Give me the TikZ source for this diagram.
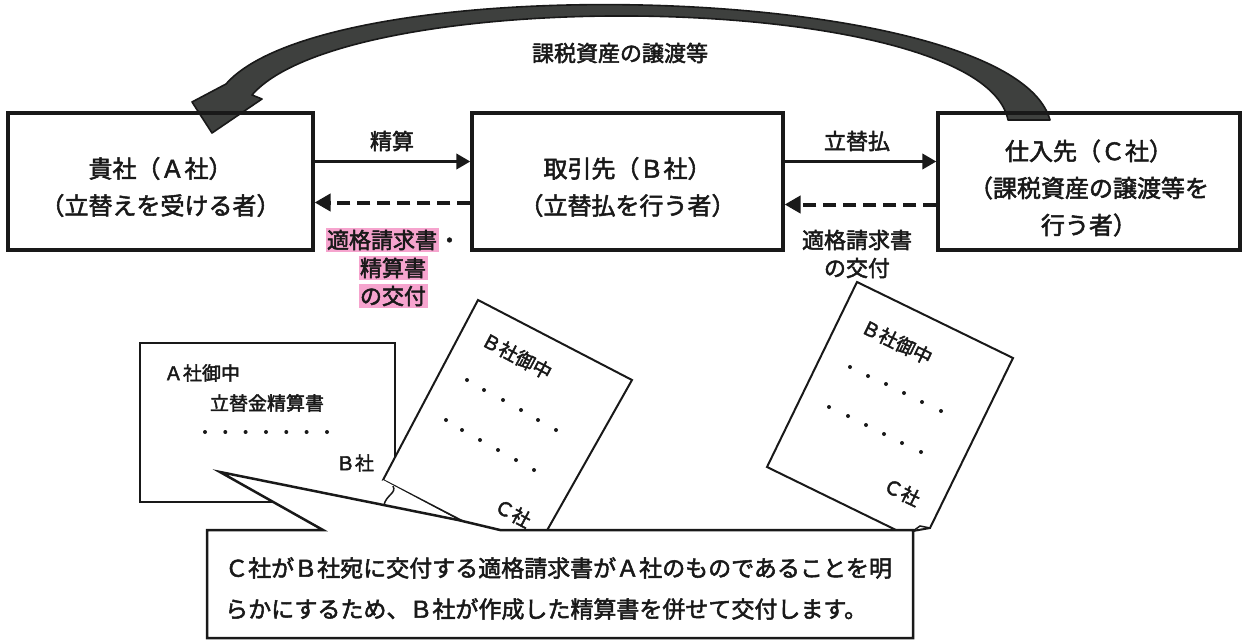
\documentclass[tikz,border=0pt]{standalone}
\usepackage{fontspec}
\setmainfont{Noto Sans CJK JP}
\newfontfamily\jpmed{Noto Sans CJK JP}[FakeBold=2.2]
\usetikzlibrary{arrows.meta}
\definecolor{pinkhl}{RGB}{246,164,206}
\definecolor{bandgray}{RGB}{62,64,62}
\definecolor{ink}{RGB}{25,25,25}
\begin{document}
\begin{tikzpicture}[x=1pt,y=-1pt,
  box/.style={draw=ink, line width=3.2pt, inner sep=0pt},
  boxtext/.style={align=center, text=ink, font=\jpmed\fontsize{24}{37}\selectfont},
  lbl/.style={align=center, text=ink, font=\jpmed\fontsize{22}{28}\selectfont},
  solidarr/.style={draw=ink, line width=3.5pt, -{Triangle[length=14pt,width=15pt]}},
  dasharr/.style={draw=ink, line width=4pt, dash pattern=on 13pt off 7pt, -{Triangle[length=16pt,width=17pt]}},
  doc/.style={draw=ink, fill=white, line width=2pt, line join=miter},
  doctext/.style={text=ink, font=\jpmed\fontsize{19}{24}\selectfont, inner sep=0pt},
  callout/.style={draw=ink, fill=white, line width=2.5pt, line join=miter},
  callouttext/.style={text=ink, font=\jpmed\fontsize{23}{28}\selectfont, anchor=west, inner sep=0pt},
  band/.style={draw=ink, fill=bandgray, line width=1.6pt, line join=round}
]
\useasboundingbox[fill=white] (0,0) rectangle (1248,640);

% big curved arrow
\coordinate (bs1) at (1050,120);
\coordinate (bs2) at (1008,120);
\fill[band] (bs1) .. controls (1012,-18) and (330,-35) .. (226,84)
  -- (192,102) -- (212,133) -- (262,99) -- (252,95)
  .. controls (350,-18) and (982,-10) .. (bs2) -- cycle;
\node[lbl] (ltop) at (620,53) {課税資産の譲渡等};

% boxes
\node[box, minimum width=305pt, minimum height=137pt] (A) at (160.5,181.5) {};
\node[box, minimum width=311pt, minimum height=137pt] (B) at (627.5,181.5) {};
\node[box, minimum width=302pt, minimum height=137pt] (C) at (1089,181.5) {};
\node[boxtext] (At) at ([yshift=-5.5pt]A.center) {貴社（Ａ社）\\（立替えを受ける者）};
\node[boxtext] (Bt) at ([yshift=-5.5pt]B.center) {取引先（Ｂ社）\\（立替払を行う者）};
\node[boxtext] (Ct) at ([yshift=-6.5pt]C.center) {仕入先（Ｃ社）\\（課税資産の譲渡等を\\行う者）};

% arrows
\draw[solidarr] ([yshift=20pt]A.east) -- ([yshift=20pt]B.west);
\draw[solidarr] ([yshift=20pt]B.east) -- ([yshift=20pt]C.west);
\draw[dasharr] ([yshift=-21pt]B.west) -- ([yshift=-21pt]A.east);
\draw[dasharr] ([yshift=-23pt]C.west) -- ([yshift=-23pt]B.east);
\node[lbl] (l1) at (392,141) {精算};
\node[lbl] (l2) at (857,141) {立替払};
\setlength{\fboxsep}{1.5pt}
\node[lbl] (l3) at (393,268) {\colorbox{pinkhl}{適格請求書}・\\\colorbox{pinkhl}{精算書}\\\colorbox{pinkhl}{の交付}};
\node[lbl] (l4) at (857,254) {適格請求書\\の交付};

% document 1 (A社御中)
\draw[doc] (140,343) rectangle (395,502);
\node[doctext] (d1a) at (202,373) {Ａ社御中};
\node[doctext] (d1b) at (267,403) {立替金精算書};
\foreach \x in {205,225.3,245.6,266,286.3,306.6,327} \fill[ink] (\x,432) circle (2pt);
\node[doctext] (d1c) at (355,463) {Ｂ社};

% document 3 (right)
\draw[doc] (857,282) -- (1013,358) -- (930,528) -- (913,531) -- (896,530) -- (767,467) -- cycle;
\draw[ink, line width=1.5pt] (913,531) -- (920,526) -- (930,528);
\node[doctext, rotate=-26] (d3a) at (897,342) {Ｂ社御中};
\foreach \p in {(850,367),(868,376),(886,384),(904,393),(922,402),(941,411),
                (829,407),(848,416),(866,425),(884,434),(902,443),(921,452)}
  \fill[ink] \p circle (2pt);
\node[doctext, rotate=-26] (d3b) at (902,492) {Ｃ社};

% document 2 (middle)
\draw[doc] (478,300) -- (632,380) -- (532,557) -- (383,480) -- cycle;
\node[doctext, rotate=-28] (d2a) at (517,356) {Ｂ社御中};
\foreach \p in {(467,380),(484,390),(503,400),(521,410),(538,420),(556,430),
                (446,420),(462,430),(480,440),(498,450),(516,460),(534,470)}
  \fill[ink] \p circle (2pt);
\node[doctext, rotate=-28] (d2b) at (513,513) {Ｃ社};
\fill[white] (383,480) -- (458,520) -- (369,502) -- cycle;
\draw[ink, line width=1.5pt] (393,486) .. controls (397,493) and (386,495) .. (384,505);

% callout
\draw[callout] (207,638) -- (207,530) -- (323,530) -- (220,472) -- (458,520) -- (500,530)
  -- (913,530) -- (913,638) -- cycle;
\node[callouttext] (c1) at (225,568) {Ｃ社がＢ社宛に交付する適格請求書がＡ社のものであることを明};
\node[callouttext] (c2) at (225,609) {らかにするため、Ｂ社が作成した精算書を併せて交付します。};
\end{tikzpicture}
\end{document}
